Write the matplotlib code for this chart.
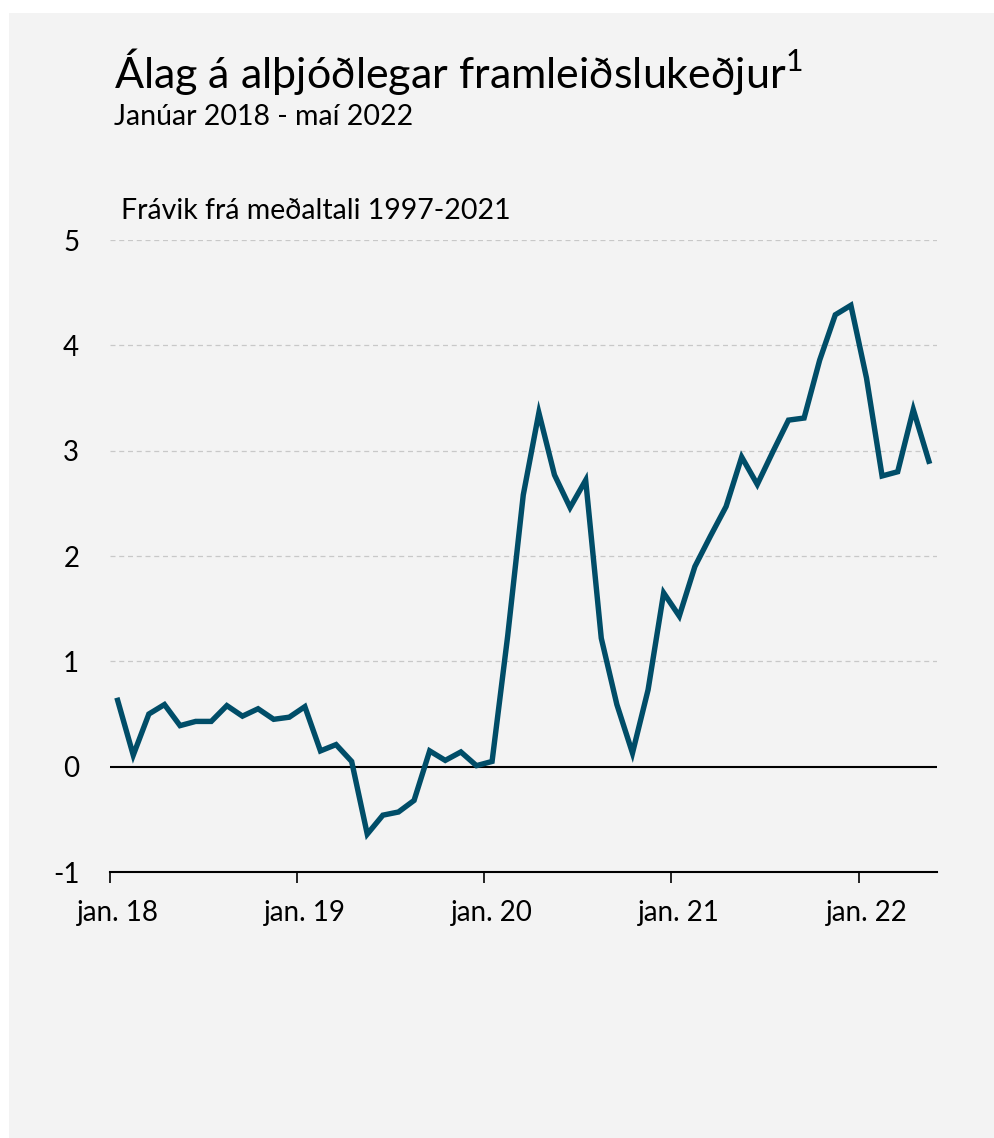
import numpy as np
import matplotlib.pyplot as plt
from matplotlib.patches import Rectangle

# monthly values, jan 2018 - may 2022
values = [0.63, 0.11, 0.50, 0.59, 0.39, 0.43, 0.43, 0.58, 0.48, 0.55, 0.45, 0.47,
          0.57, 0.15, 0.21, 0.05, -0.64, -0.46, -0.43, -0.32, 0.15, 0.06, 0.14, 0.01,
          0.05, 1.24, 2.58, 3.36, 2.77, 2.46, 2.72, 1.22, 0.59, 0.13, 0.73, 1.65,
          1.43, 1.90, 2.19, 2.47, 2.94, 2.68, 2.99, 3.29, 3.31, 3.86, 4.29, 4.38,
          3.69, 2.76, 2.80, 3.39, 2.90]
year_labels = ["jan. 18", "jan. 19", "jan. 20", "jan. 21", "jan. 22"]
y_ticks = [-1, 0, 1, 2, 3, 4, 5]

title = "Álag á alþjóðlegar framleiðslukeðjur$^{1}$"
subtitle = "Janúar 2018 - maí 2022"
unit = "Frávik frá meðaltali 1997-2021"

plt.rcParams['font.family'] = ['Lato', 'DejaVu Sans']
plt.rcParams['mathtext.fontset'] = 'custom'
plt.rcParams['mathtext.rm'] = 'Lato'

bg = "#f3f3f3"
line_col = "#004d68"

fig = plt.figure(figsize=(9.95, 11.38), dpi=100, facecolor="white")
fig.patches.append(Rectangle((9 / 995, 0), 1, 1 - 13 / 1138, transform=fig.transFigure,
                             facecolor=bg, edgecolor="none", zorder=-10))

ax = fig.add_axes([0.1104, 0.2337, 0.831, 0.5554])
ax.set_facecolor("none")

x = np.arange(len(values))
ax.plot(x, values, color=line_col, linewidth=3.9, solid_joinstyle="miter", zorder=3)

ax.set_xlim(-0.5, len(values) - 0.5)
ax.set_ylim(-1, 5)

# grid
for yv in y_ticks[2:]:
    ax.axhline(yv, color="#c8c8c8", linewidth=0.9, linestyle=(0, (4, 3)), zorder=1)
ax.axhline(0, color="black", linewidth=1.5, zorder=2)

for s in ["top", "right", "left"]:
    ax.spines[s].set_visible(False)
ax.spines["bottom"].set_linewidth(1.5)

# year boundaries as ticks, labels centred on january
ax.set_xticks(np.arange(-0.5, len(values), 12))
ax.set_xticklabels([])
ax.tick_params(axis="x", which="major", length=8, width=1.2, direction="out")
ax.set_xticks(np.arange(0, len(values), 12), minor=True)
ax.set_xticklabels(year_labels, minor=True, fontsize=20)
ax.tick_params(axis="x", which="minor", length=0, pad=20)

ax.set_yticks(y_ticks)
ax.set_yticklabels([str(v) for v in y_ticks], fontsize=20)
ax.tick_params(axis="y", length=0, pad=22)

fig.text(114 / 995, 1 - 88 / 1138, title, fontsize=31, ha="left", va="baseline")
fig.text(114 / 995, 1 - 125 / 1138, subtitle, fontsize=20.5, ha="left", va="baseline")
fig.text(121 / 995, 1 - 219 / 1138, unit, fontsize=20.5, ha="left", va="baseline")

plt.savefig("out.png", dpi=100, facecolor=fig.get_facecolor())
